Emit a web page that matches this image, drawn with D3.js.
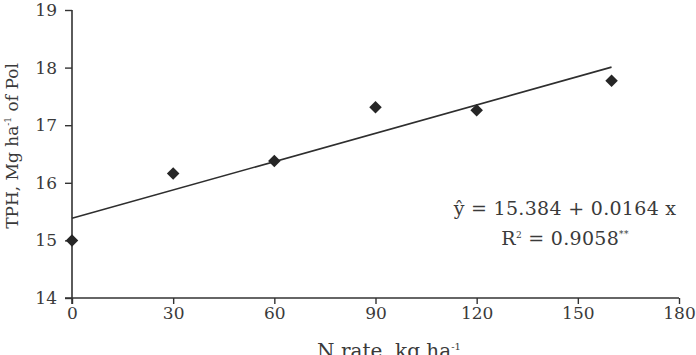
<!DOCTYPE html>
<html>
<head>
<meta charset="utf-8">
<script src="https://cdn.jsdelivr.net/npm/d3@7"></script>
<style>
  body { margin: 0; background: #fff; }
  svg { display: block; }
  text { font-family: "DejaVu Serif", "Liberation Serif", serif; fill: #3a3a3a; }
</style>
</head>
<body>
<svg id="chart"></svg>
<script>
// N rate (kg/ha) and TPH (Mg/ha of Pol)
const nRates = [0, 30, 60, 90, 120, 160];
const tph    = [15.0, 16.16, 16.38, 17.31, 17.26, 17.77];
const xTicks = [0, 30, 60, 90, 120, 150, 180];
const yTicks = [14, 15, 16, 17, 18, 19];
const fitIntercept = 15.384, fitSlope = 0.0164;
const fitRange = [0, 160];

let margin = {top: 10, right: 17, bottom: 57, left: 72},
    width = 696 - margin.left - margin.right,
    height = 355 - margin.top - margin.bottom;

let svg = d3.select("#chart")
  .attr("width", 696)
  .attr("height", 355)
  .append("g")
  .attr("transform", "translate(" + margin.left + "," + margin.top + ")");

let x = d3.scaleLinear().domain([0, 180]).range([0, width]);
let y = d3.scaleLinear().domain([14, 19]).range([height, 0]);

let xAxis = d3.axisBottom(x).tickValues(xTicks).tickSize(6).tickSizeOuter(0).tickPadding(3);
let yAxis = d3.axisLeft(y).tickValues(yTicks).tickFormat(d3.format("d"))
  .tickSize(7).tickSizeOuter(0).tickPadding(8);

let gx = svg.append("g")
  .attr("transform", "translate(0," + height + ")")
  .call(xAxis);
let gy = svg.append("g").call(yAxis);

[gx, gy].forEach(function(g) {
  g.select(".domain").attr("stroke", "#333").attr("stroke-width", 1.6);
  g.selectAll(".tick line").attr("stroke", "#333").attr("stroke-width", 1.4);
  g.selectAll(".tick text")
    .style("font-family", '"DejaVu Serif", serif')
    .style("font-size", "17px")
    .style("fill", "#3a3a3a");
});
// the axes cross at the origin
gx.select(".domain").attr("d", "M-7,0H" + width);
gy.select(".domain").attr("d", "M0,0V" + (height + 6));

// regression line
let line = d3.line().x(function(d) { return x(d); }).y(function(d) { return y(fitIntercept + fitSlope * d); });
svg.append("path")
  .datum(fitRange)
  .attr("d", line)
  .attr("fill", "none")
  .attr("stroke", "#2e2e2e")
  .attr("stroke-width", 1.6);

// data points
let diamond = d3.symbol().type(d3.symbolDiamond2).size(100);
svg.selectAll(".pt")
  .data(nRates)
  .enter().append("path")
  .attr("class", "pt")
  .attr("d", diamond)
  .attr("transform", function(d, i) { return "translate(" + x(d) + "," + y(tph[i]) + ")"; })
  .attr("fill", "#262626");

// equation
let eq = svg.append("text")
  .attr("x", 493)
  .attr("y", 205)
  .attr("text-anchor", "middle")
  .style("font-size", "19px")
  .style("letter-spacing", "0.3px");
eq.append("tspan").text("ŷ = 15.384 + 0.0164 x");

let r2 = svg.append("text")
  .attr("x", 493)
  .attr("y", 235)
  .attr("text-anchor", "middle")
  .style("font-size", "19px")
  .style("letter-spacing", "0.3px");
r2.append("tspan").text("R");
r2.append("tspan").attr("dy", -7).style("font-size", "9px").text("2");
r2.append("tspan").attr("dy", 7).text(" = 0.9058");
r2.append("tspan").attr("dy", -8).style("font-size", "9px").text("**");

// y axis title
let yt = svg.append("text")
  .attr("transform", "translate(-54,136) rotate(-90)")
  .attr("text-anchor", "middle")
  .style("font-size", "17px");
yt.append("tspan").text("TPH, Mg ha");
yt.append("tspan").attr("dy", -7).style("font-size", "9px").text("-1");
yt.append("tspan").attr("dy", 7).text(" of Pol");

// x axis title (cut by the bottom edge, as in the original)
let xt = svg.append("text")
  .attr("x", 317)
  .attr("y", height + 60)
  .attr("text-anchor", "middle")
  .style("font-size", "20px");
xt.append("tspan").text("N rate, kg ha");
xt.append("tspan").attr("dy", -8).style("font-size", "10px").text("-1");
</script>
</body>
</html>
